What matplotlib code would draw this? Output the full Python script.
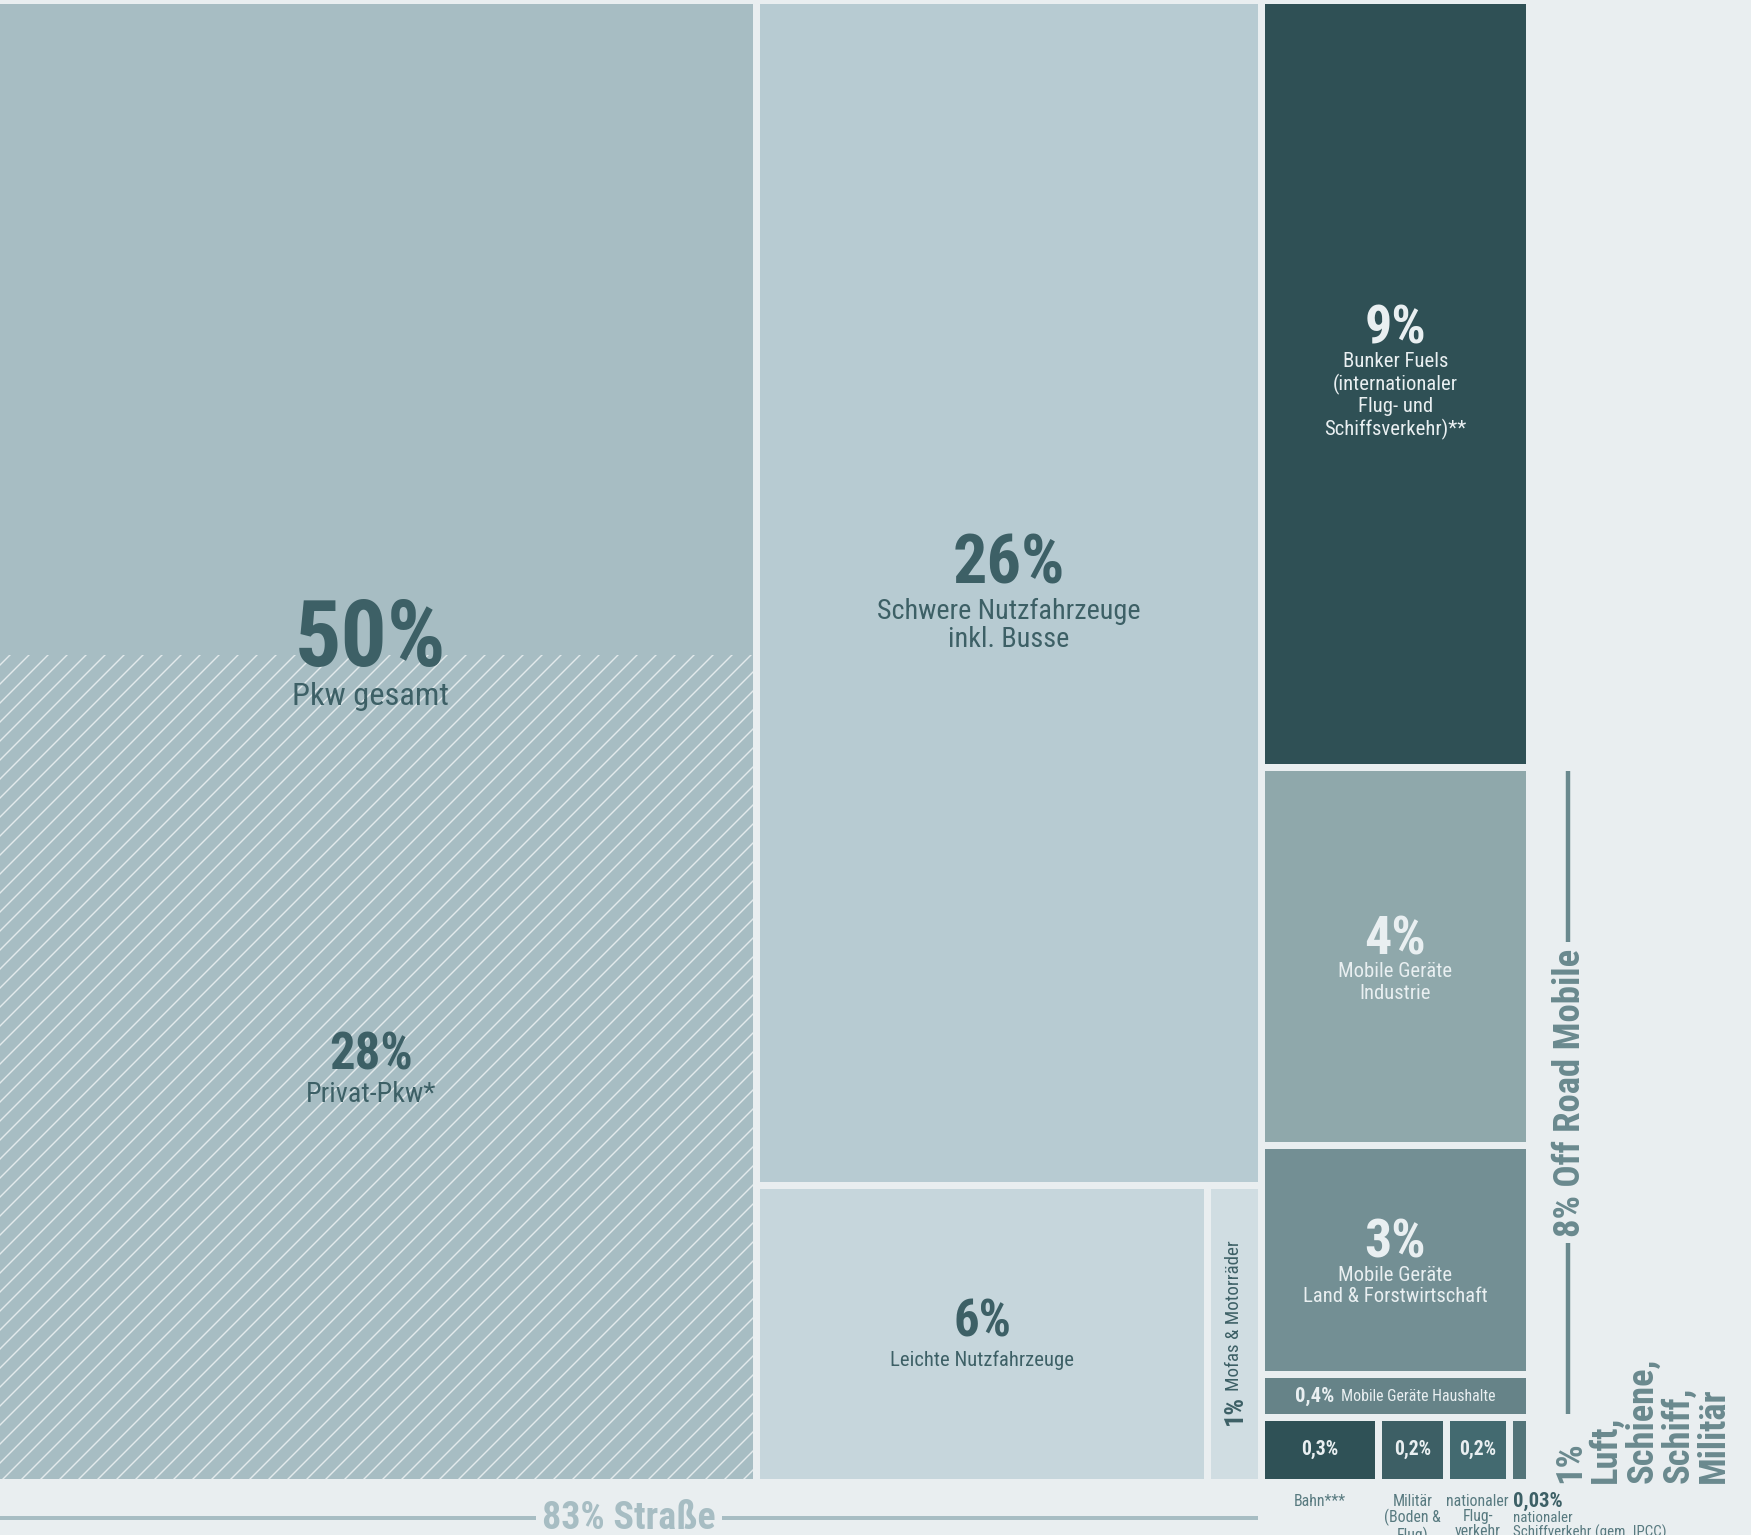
import matplotlib.pyplot as plt
from matplotlib.patches import Rectangle

# tile shares (% of total) and their printed labels
pct_labels = ["50%", "26%", "6%", "1%", "9%", "4%", "3%", "0,4%", "0,3%", "0,2%", "0,2%", "0,03%"]
names = ["Pkw gesamt", "Schwere Nutzfahrzeuge\ninkl. Busse", "Leichte Nutzfahrzeuge",
         "Mofas & Motorräder", "Bunker Fuels\n(internationaler\nFlug- und\nSchiffsverkehr)**",
         "Mobile Geräte\nIndustrie", "Mobile Geräte\nLand & Forstwirtschaft",
         "Mobile Geräte Haushalte", "Bahn***", "Militär\n(Boden &\nFlug)",
         "nationaler\nFlug-\nverkehr", "nationaler\nSchiffverkehr (gem. IPCC)"]
areas = [49.6, 26.3, 5.9, 0.7, 9.06, 4.46, 2.71, 0.50, 0.336, 0.195, 0.181, 0.058]
privat_pkw_share = 27.7
privat_pkw_label = "28%"

colors = ["#a7bdc3", "#b7cbd2", "#c6d6dc", "#d0dde2", "#2f5055", "#8fa8ab",
          "#738f94", "#668388", "#2f5156", "#3d5f65", "#436a70", "#537479"]

# nesting of the treemap: columns, then rows, then columns ...
tree = [0, [1, [2, 3]], [4, 5, 6, 7, [8, 9, 10, 11]]]

BG = "#e9eef0"
DARK = "#3d6066"
LIGHT = "#e9eff1"
GAP = 7

plt.rcParams['font.family'] = ['Roboto Condensed', 'DejaVu Sans']
plt.rcParams['hatch.linewidth'] = 0.9


def node_sum(node):
    if isinstance(node, int):
        return areas[node]
    return sum(node_sum(c) for c in node)


def layout(node, x0, y0, x1, y1, horiz, out):
    if isinstance(node, int):
        out[node] = (x0, y0, x1, y1)
        return
    total = node_sum(node)
    pos = x0 if horiz else y0
    for c in node:
        frac = node_sum(c) / total
        if horiz:
            w = (x1 - x0) * frac
            layout(c, pos, y0, pos + w, y1, False, out)
            pos += w
        else:
            h = (y1 - y0) * frac
            layout(c, x0, pos, x1, pos + h, True, out)
            pos += h


W, H = 1751, 1535
DPI = 114
fig = plt.figure(figsize=((W + 0.01) / DPI, (H + 0.01) / DPI), dpi=DPI, facecolor=BG)
ax = fig.add_axes([0, 0, 1, 1])
ax.set_xlim(0, W)
ax.set_ylim(H, 0)
ax.axis("off")

cells = {}
layout(tree, -3.5, 0.5, 1529.5, 1482.5, True, cells)

for i, (x0, y0, x1, y1) in cells.items():
    ax.add_patch(Rectangle((x0 + GAP / 2, y0 + GAP / 2), x1 - x0 - GAP, y1 - y0 - GAP,
                           facecolor=colors[i], edgecolor="none"))

# hatched part of Pkw = Privat-Pkw
x0, y0, x1, y1 = cells[0]
hatch_h = (y1 - y0) * privat_pkw_share / areas[0]
hatch_top = y1 - hatch_h
ax.add_patch(Rectangle((x0 + GAP / 2, hatch_top), x1 - x0 - GAP, hatch_h - GAP / 2,
                       facecolor="none", edgecolor="#e2eaec", linewidth=0, hatch="//"))

fig.canvas.draw()
renderer = fig.canvas.get_renderer()


def extent(t):
    return t.get_window_extent(renderer).transformed(ax.transData.inverted())


def center(i):
    x0, y0, x1, y1 = cells[i]
    return (x0 + x1) / 2, (y0 + y1) / 2


# Pkw
cx, _ = center(0)
ax.text(cx - 6, hatch_top - 14, pct_labels[0], ha="center", va="center", fontsize=58,
        fontweight="bold", color=DARK)
ax.text(cx - 6, hatch_top + 42, names[0], ha="center", va="center", fontsize=20.5, color=DARK)
hy = (hatch_top + y1) / 2
ax.text(cx - 6, hy - 13, privat_pkw_label, ha="center", va="center", fontsize=32,
        fontweight="bold", color=DARK)
ax.text(cx - 6, hy + 26, "Privat-Pkw*", ha="center", va="center", fontsize=17.8, color=DARK)

# Schwere Nutzfahrzeuge
cx, cy = center(1)
ax.text(cx, cy - 28, pct_labels[1], ha="center", va="center", fontsize=43,
        fontweight="bold", color=DARK)
ax.text(cx, cy + 33, names[1], ha="center", va="center", fontsize=17.8, color=DARK,
        linespacing=1.05)

# Leichte Nutzfahrzeuge
cx, cy = center(2)
ax.text(cx, cy - 11, pct_labels[2], ha="center", va="center", fontsize=32,
        fontweight="bold", color=DARK)
ax.text(cx, cy + 26, names[2], ha="center", va="center", fontsize=13, color=DARK)

# Mofas (rotated)
cx, cy = center(3)
t1 = ax.text(cx, cells[3][3] - 58, pct_labels[3], ha="center", va="bottom", rotation=90,
             fontsize=16.5, fontweight="bold", color=DARK)
b = extent(t1)
ax.text(cx, min(b.y0, b.y1) - 4, names[3], ha="center", va="bottom", rotation=90,
        fontsize=12, color=DARK)

# off road + bunker tiles
for i, dy_pct, dy_name in [(4, -55, 12), (5, -17, 26), (6, -17, 26)]:
    cx, cy = center(i)
    ax.text(cx, cy + dy_pct, pct_labels[i], ha="center", va="center", fontsize=34,
            fontweight="bold", color=LIGHT)
    ax.text(cx, cy + dy_name, names[i], ha="center", va="center", fontsize=13,
            color=LIGHT, linespacing=1.15)

# Haushalte
cx, cy = center(7)
tp = ax.text(0, cy, pct_labels[7], ha="left", va="center", fontsize=13,
             fontweight="bold", color=LIGHT)
tn = ax.text(0, cy, names[7], ha="left", va="center", fontsize=10, color=LIGHT)
wp = extent(tp).width
wn = extent(tn).width
start = cx - (wp + 6 + wn) / 2
tp.set_x(start)
tn.set_x(start + wp + 6)

# bottom row
LABEL = "#587a80"
for i in [8, 9, 10]:
    cx, cy = center(i)
    ax.text(cx, cy, pct_labels[i], ha="center", va="center", fontsize=12.5,
            fontweight="bold", color=LIGHT)
    ax.text(cx, 1494, names[i], ha="center", va="top", fontsize=10, color=LABEL,
            linespacing=1.0)
x0 = cells[11][0] + GAP / 2
ax.text(x0, 1507, pct_labels[11], ha="left", va="baseline", fontsize=13,
        fontweight="bold", color=DARK)
ax.text(x0, 1511, names[11], ha="left", va="top", fontsize=9.5, color=LABEL,
        linespacing=1.0)

# 83% Straße bracket
sx0 = cells[0][0] + GAP / 2
sx1 = cells[1][2] - GAP / 2
STRASSE = "#a7bdc3"
ts = ax.text((sx0 + sx1) / 2, 1518, "83% Straße", ha="center", va="center", fontsize=24,
             fontweight="bold", color=STRASSE)
bb = extent(ts)
ax.plot([sx0, bb.x0 - 6], [1518, 1518], color=STRASSE, lw=2.5, solid_capstyle="butt")
ax.plot([bb.x1 + 6, sx1], [1518, 1518], color=STRASSE, lw=2.5, solid_capstyle="butt")

# 8% Off Road Mobile bracket
OFF = "#6a898e"
oy0 = cells[5][1] + GAP / 2
oy1 = cells[7][3] - GAP / 2
bx = 1568
to = ax.text(bx + 2, (oy0 + oy1) / 2, "8% Off Road Mobile", ha="center", va="center",
             rotation=90, fontsize=23.2, fontweight="bold", color=OFF)
bb = extent(to)
ylo, yhi = sorted([bb.y0, bb.y1])
ax.plot([bx, bx], [oy0, ylo - 6], color=OFF, lw=2.8, solid_capstyle="butt")
ax.plot([bx, bx], [yhi + 6, oy1], color=OFF, lw=2.8, solid_capstyle="butt")

ax.text(1552, 1483, "1%\nLuft,\nSchiene,\nSchiff,\nMilitär", ha="left", va="bottom",
        rotation=90, fontsize=23, fontweight="bold", color=OFF, linespacing=1.0,
        multialignment="left")

fig.savefig("out.png", dpi=DPI, facecolor=BG)
